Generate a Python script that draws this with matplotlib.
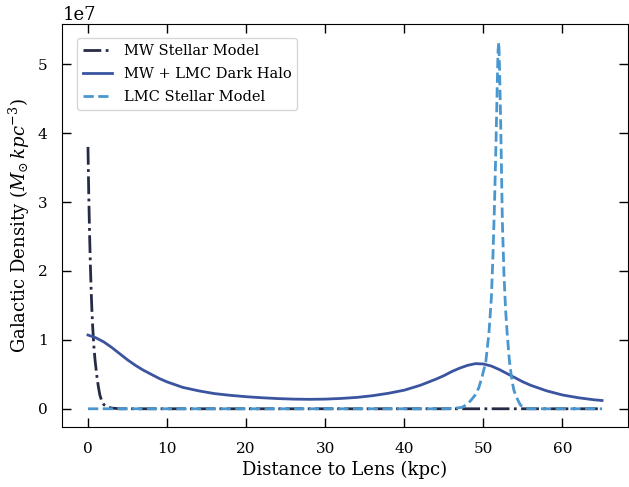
import numpy as np
import matplotlib.pyplot as plt

plt.rcParams['font.family'] = 'DejaVu Serif'
plt.rcParams['mathtext.fontset'] = 'dejavuserif'

# MW stellar model (density in 1e7 Msun/kpc^3)
mw_x = [0, 0.1, 0.2, 0.3, 0.4, 0.5, 0.6, 0.75, 0.9, 1.0, 1.15, 1.3, 1.5, 1.75, 2.0,
        2.5, 3.0, 4.0, 10, 20, 30, 40, 50, 60, 65]
mw_y = [3.8, 3.1, 2.55, 2.1, 1.72, 1.42, 1.18, 0.9, 0.7, 0.6, 0.45, 0.33, 0.2, 0.11,
        0.06, 0.025, 0.01, 0.0, 0, 0, 0, 0, 0, 0, 0]

# MW + LMC dark halo
halo_x = [0, 1, 2, 3, 4, 5, 6, 7, 8, 9, 10, 11, 12, 14, 16, 18, 20, 22, 24, 26, 28,
          30, 32, 34, 36, 38, 40, 42, 44, 45, 46, 47, 48, 49, 50, 51, 52, 53, 54,
          55, 56, 57, 58, 60, 62, 64, 65]
halo_y = [1.07, 1.03, 0.97, 0.89, 0.8, 0.71, 0.63, 0.56, 0.5, 0.44, 0.39, 0.35, 0.31,
          0.26, 0.22, 0.195, 0.175, 0.16, 0.148, 0.14, 0.137, 0.14, 0.15, 0.165, 0.19,
          0.225, 0.27, 0.34, 0.43, 0.48, 0.54, 0.59, 0.63, 0.655, 0.65, 0.62, 0.57,
          0.51, 0.45, 0.39, 0.34, 0.3, 0.26, 0.2, 0.16, 0.13, 0.12]

# LMC stellar model
lmc_x = [0, 10, 20, 30, 40, 45, 46.5, 47.3, 48.0, 48.4, 48.9, 49.4, 49.8, 50.3, 50.7,
         51.0, 51.2, 51.4, 51.6, 51.75, 51.85, 51.95, 52.05, 52.2, 52.4, 52.6, 52.8,
         53.0, 53.3, 53.6, 53.85, 54.2, 54.7, 55.2, 55.7, 57, 60, 65]
lmc_y = [0, 0, 0, 0, 0, 0.0, 0.01, 0.02, 0.07, 0.12, 0.19, 0.3, 0.45, 0.68, 1.1,
         1.6, 2.2, 2.95, 3.9, 4.7, 5.2, 5.32, 4.9, 4.05, 2.7, 1.95, 1.45,
         1.1, 0.68, 0.42, 0.27, 0.16, 0.05, 0.02, 0.0, 0, 0, 0]

fig = plt.figure(figsize=(6.29, 4.87), dpi=100)
ax = fig.add_axes([0.099, 0.123, 0.899, 0.828])

scale = 1e7
ax.plot(mw_x, np.array(mw_y) * scale, color='#262b45', lw=2, ls='-.', label='MW Stellar Model')
ax.plot(halo_x, np.array(halo_y) * scale, color='#3b54a0', lw=2, ls='-', label='MW + LMC Dark Halo')
ax.plot(lmc_x, np.array(lmc_y) * scale, color='#4a97cf', lw=2, ls='--', label='LMC Stellar Model')

ax.set_xlabel('Distance to Lens (kpc)', fontsize=13)
ax.set_ylabel(r'Galactic Density ($M_{\odot}\, kpc^{-3}$)', fontsize=13)
ax.set_xticks([0, 10, 20, 30, 40, 50, 60])
ax.tick_params(direction='in', top=True, right=True, length=6.5, width=1, labelsize=11, pad=10.5)
ax.yaxis.get_offset_text().set_fontsize(13)
ax.legend(loc='upper left', fontsize=10.5, frameon=True, borderaxespad=1.0, labelspacing=0.6)

fig.savefig('out.png', dpi=100)
